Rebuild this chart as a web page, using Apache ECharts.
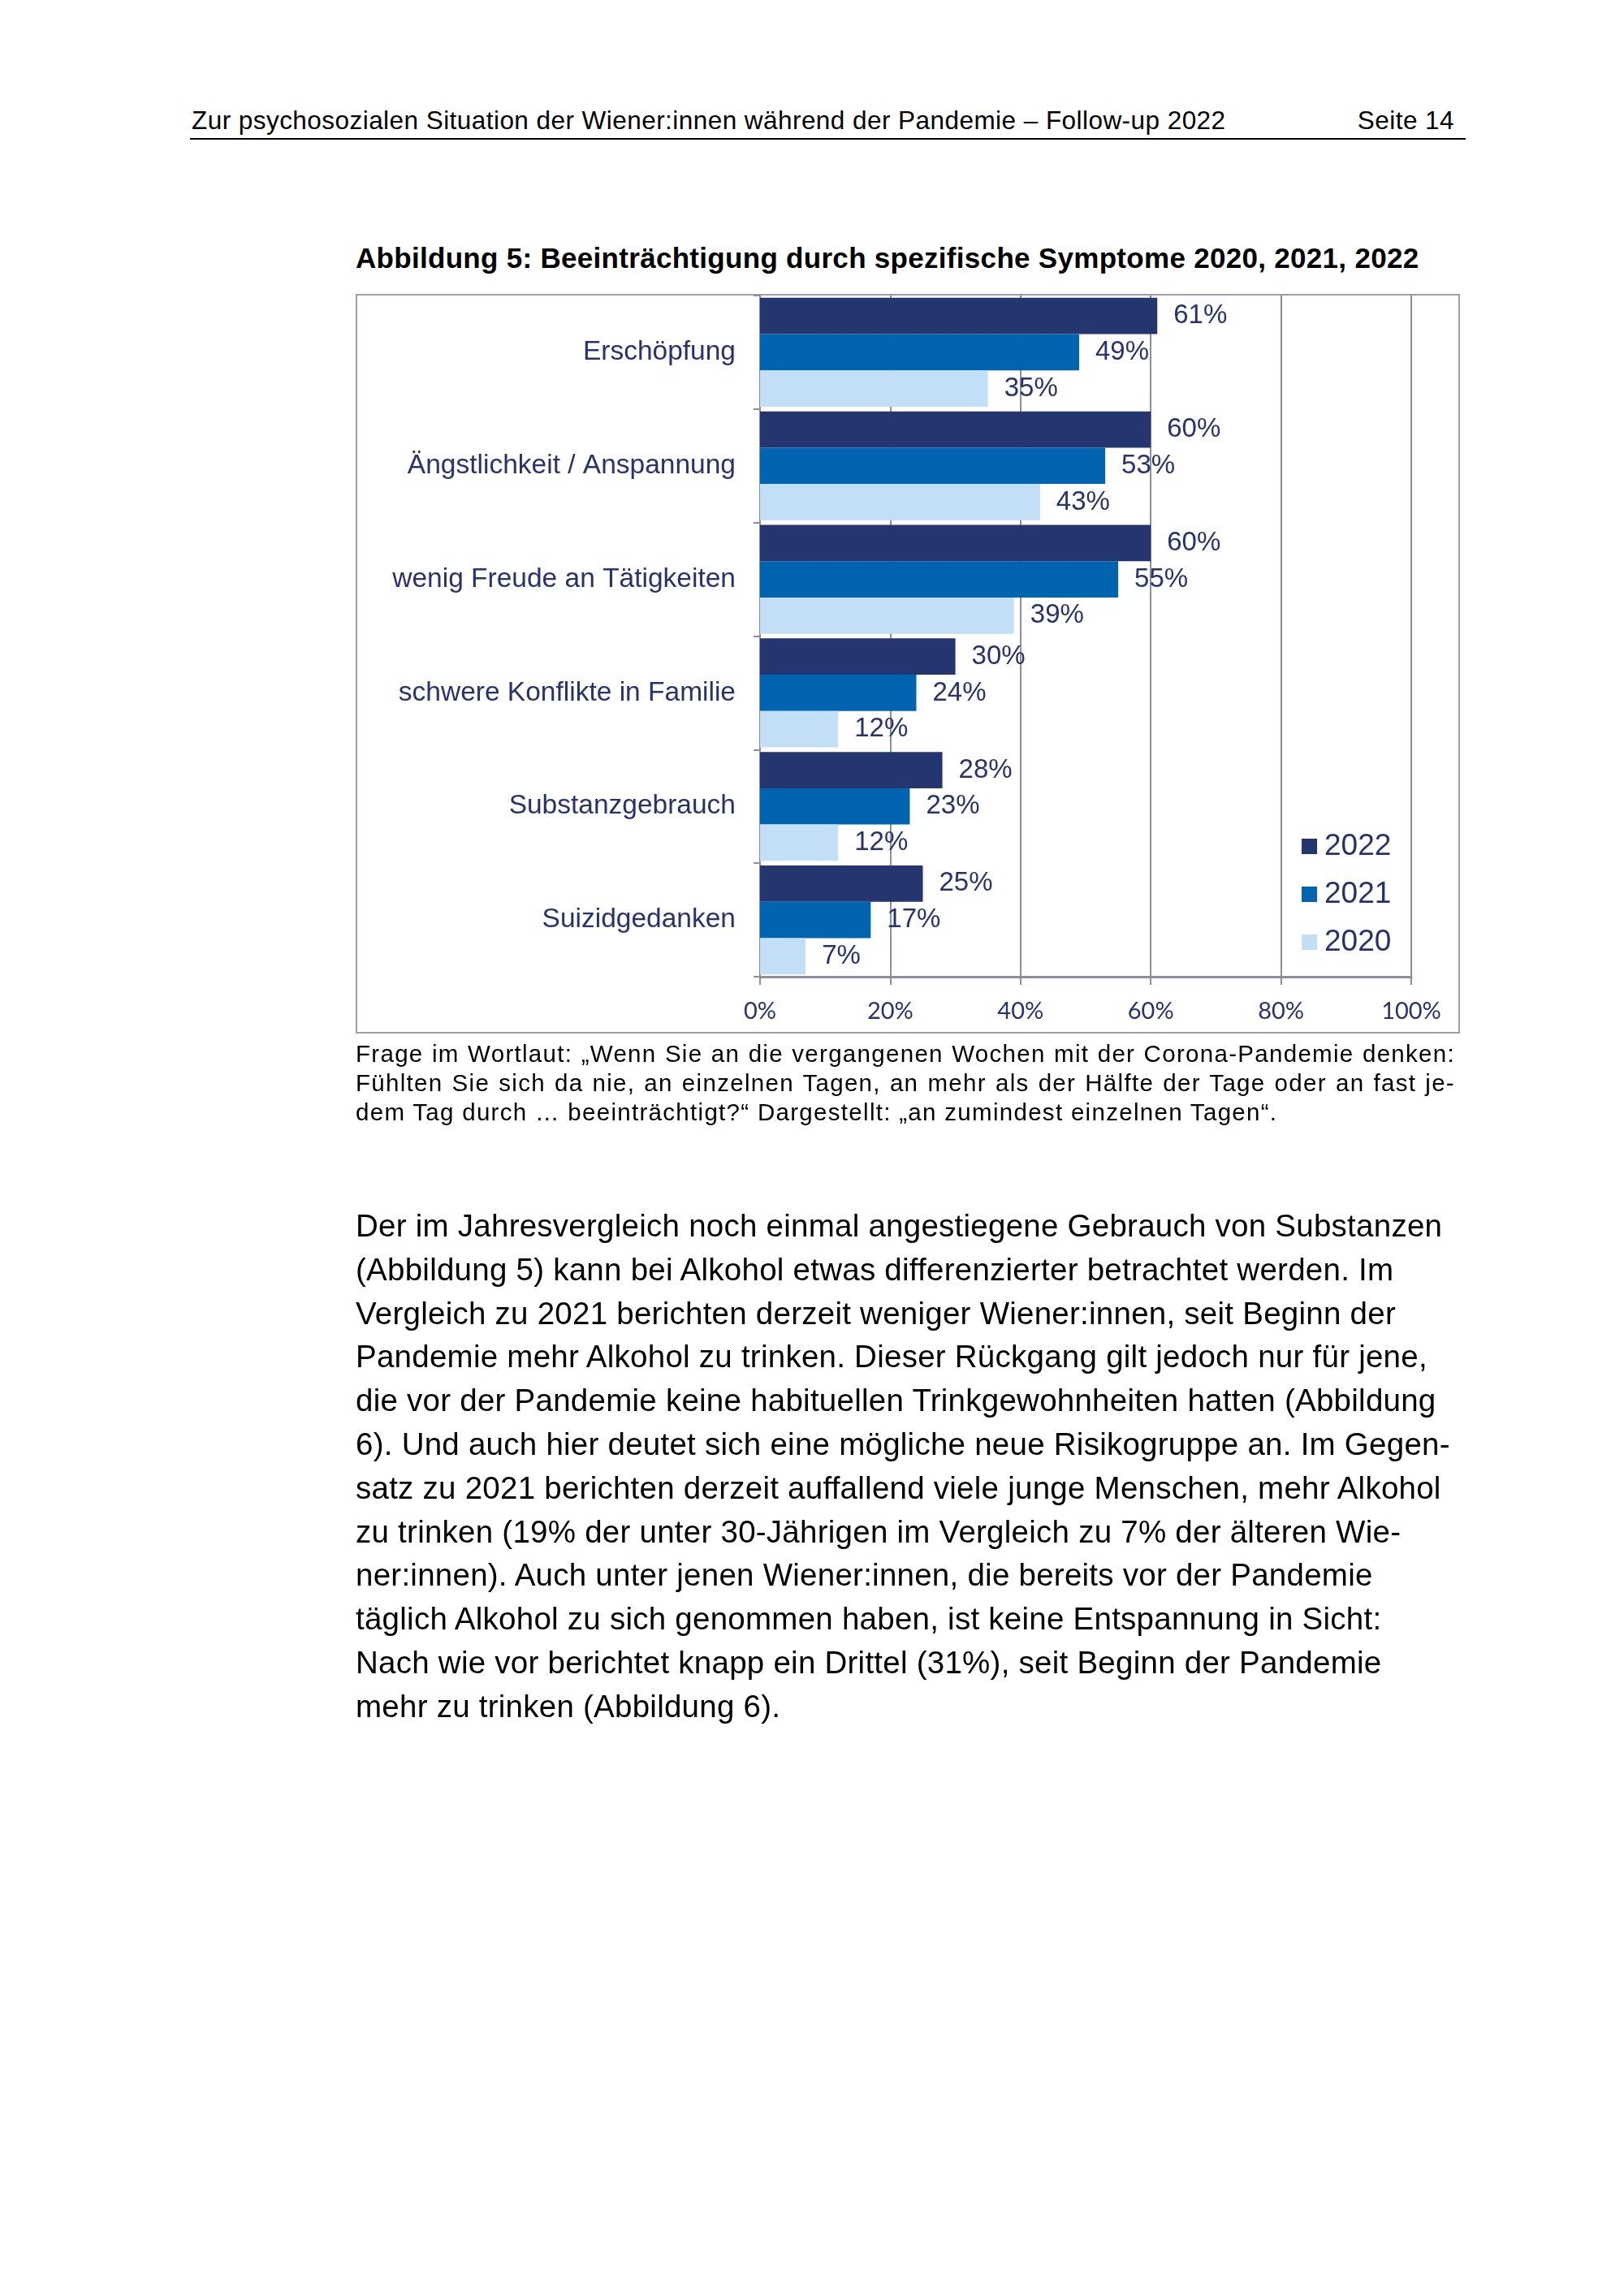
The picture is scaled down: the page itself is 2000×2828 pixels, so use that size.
<!DOCTYPE html>
<html>
<head>
<meta charset="utf-8">
<script src="https://cdn.jsdelivr.net/npm/echarts@6/dist/echarts.min.js"></script>
<style>
  html, body { margin:0; padding:0; background:#fff; }
  body { width:2000px; height:2828px; position:relative; overflow:hidden; font-family:"Liberation Sans", Arial, sans-serif; color:#000; }
  .abs { position:absolute; white-space:nowrap; }
  #header { left:236px; top:130px; font-size:31.5px; letter-spacing:0.45px; }
  #page { right:209px; top:130px; font-size:31.5px; letter-spacing:0.45px; }
  #rule { left:234px; top:170px; width:1571px; height:2px; background:#000; }
  #title { left:438px; top:298px; font-size:35px; font-weight:bold; letter-spacing:0.3px; }
  #box { left:438px; top:362px; width:1360px; height:911px; border:2px solid #9d9db0; box-sizing:border-box; }
  #chart { position:absolute; left:0; top:0; width:2000px; height:2828px; }
  .fn { position:absolute; left:438px; width:1354px; font-size:29.5px; letter-spacing:1.3px; text-align:justify; text-align-last:justify; white-space:nowrap; }
  .fn.last { text-align-last:left; }
  .bl { position:absolute; left:438px; font-size:38.5px; letter-spacing:0.25px; white-space:nowrap; }
</style>
</head>
<body>
<div id="header" class="abs">Zur psychosozialen Situation der Wiener:innen während der Pandemie – Follow-up 2022</div>
<div id="page" class="abs">Seite 14</div>
<div id="rule" class="abs"></div>
<div id="title" class="abs">Abbildung 5: Beeinträchtigung durch spezifische Symptome 2020, 2021, 2022</div>
<div id="box" class="abs"></div>
<div id="chart"></div>
<div id="foot"></div>
<div id="bodytext"></div>
<script>
const categories = ['Erschöpfung', 'Ängstlichkeit / Anspannung', 'wenig Freude an Tätigkeiten', 'schwere Konflikte in Familie', 'Substanzgebrauch', 'Suizidgedanken'];
const seriesNames = ['2022', '2021', '2020'];
const values2022 = [61, 60, 60, 30, 28, 25];
const values2021 = [49, 53, 55, 24, 23, 17];
const values2020 = [35, 43, 39, 12, 12, 7];
const xTickValues = [0, 20, 40, 60, 80, 100];

const footLines = [
  'Frage im Wortlaut: „Wenn Sie an die vergangenen Wochen mit der Corona-Pandemie denken:',
  'Fühlten Sie sich da nie, an einzelnen Tagen, an mehr als der Hälfte der Tage oder an fast je-',
  'dem Tag durch … beeinträchtigt?“ Dargestellt: „an zumindest einzelnen Tagen“.'
];
const bodyLines = [
  'Der im Jahresvergleich noch einmal angestiegene Gebrauch von Substanzen',
  '(Abbildung 5) kann bei Alkohol etwas differenzierter betrachtet werden. Im',
  'Vergleich zu 2021 berichten derzeit weniger Wiener:innen, seit Beginn der',
  'Pandemie mehr Alkohol zu trinken. Dieser Rückgang gilt jedoch nur für jene,',
  'die vor der Pandemie keine habituellen Trinkgewohnheiten hatten (Abbildung',
  '6). Und auch hier deutet sich eine mögliche neue Risikogruppe an. Im Gegen-',
  'satz zu 2021 berichten derzeit auffallend viele junge Menschen, mehr Alkohol',
  'zu trinken (19% der unter 30-Jährigen im Vergleich zu 7% der älteren Wie-',
  'ner:innen). Auch unter jenen Wiener:innen, die bereits vor der Pandemie',
  'täglich Alkohol zu sich genommen haben, ist keine Entspannung in Sicht:',
  'Nach wie vor berichtet knapp ein Drittel (31%), seit Beginn der Pandemie',
  'mehr zu trinken (Abbildung 6).'
];

// text blocks
const foot = document.getElementById('foot');
footLines.forEach((t, i) => {
  const d = document.createElement('div');
  d.className = 'fn' + (i === footLines.length - 1 ? ' last' : '');
  d.style.top = (1281 + i * 36) + 'px';
  d.textContent = t;
  foot.appendChild(d);
});
const bt = document.getElementById('bodytext');
bodyLines.forEach((t, i) => {
  const d = document.createElement('div');
  d.className = 'bl';
  d.style.top = (1488 + i * 53.8) + 'px';
  d.textContent = t;
  bt.appendChild(d);
});

const textColor = '#27336f';
const gridColor = '#8c8ca2';
const colors = ['#243570', '#0064b1', '#c2dff7'];
const valueSets = [values2022, values2021, values2020];

const chart = echarts.init(document.getElementById('chart'), null, { renderer: 'canvas' });
chart.setOption({
  animation: false,
  grid: { left: 936, top: 364, width: 802, height: 839, containLabel: false },
  legend: {
    orient: 'vertical',
    left: 1598,
    top: 1019,
    itemWidth: 19,
    itemHeight: 19,
    itemGap: 22,
    icon: 'rect',
    data: seriesNames,
    textStyle: { fontFamily: 'Liberation Sans', fontSize: 37, color: textColor, padding: [0, 0, 0, 4] }
  },
  xAxis: {
    type: 'value',
    min: 0,
    max: 100,
    interval: 20,
    axisLine: { show: true, lineStyle: { color: gridColor, width: 3 } },
    axisTick: { show: true, length: 10, lineStyle: { color: gridColor, width: 2 } },
    splitLine: { show: true, lineStyle: { color: gridColor, width: 2 } },
    axisLabel: {
      margin: 28,
      fontFamily: 'Lato',
      fontSize: 29,
      color: textColor,
      formatter: v => (xTickValues.indexOf(v) >= 0 ? v + '%' : '')
    }
  },
  yAxis: {
    type: 'category',
    inverse: true,
    data: categories,
    axisLine: { show: true, lineStyle: { color: gridColor, width: 2 } },
    axisTick: { show: true, length: 8, alignWithLabel: false, lineStyle: { color: gridColor, width: 2 } },
    axisLabel: { margin: 30, fontFamily: 'Liberation Sans', fontSize: 33.5, color: textColor }
  },
  series: seriesNames.map((name, i) => ({
    name: name,
    type: 'bar',
    data: valueSets[i],
    barGap: '0%',
    barCategoryGap: '4%',
    itemStyle: { color: colors[i] },
    label: {
      show: true,
      position: 'right',
      distance: 20,
      formatter: '{c}%',
      fontFamily: 'Liberation Sans',
      fontSize: 33,
      color: textColor
    }
  }))
});
</script>
</body>
</html>
